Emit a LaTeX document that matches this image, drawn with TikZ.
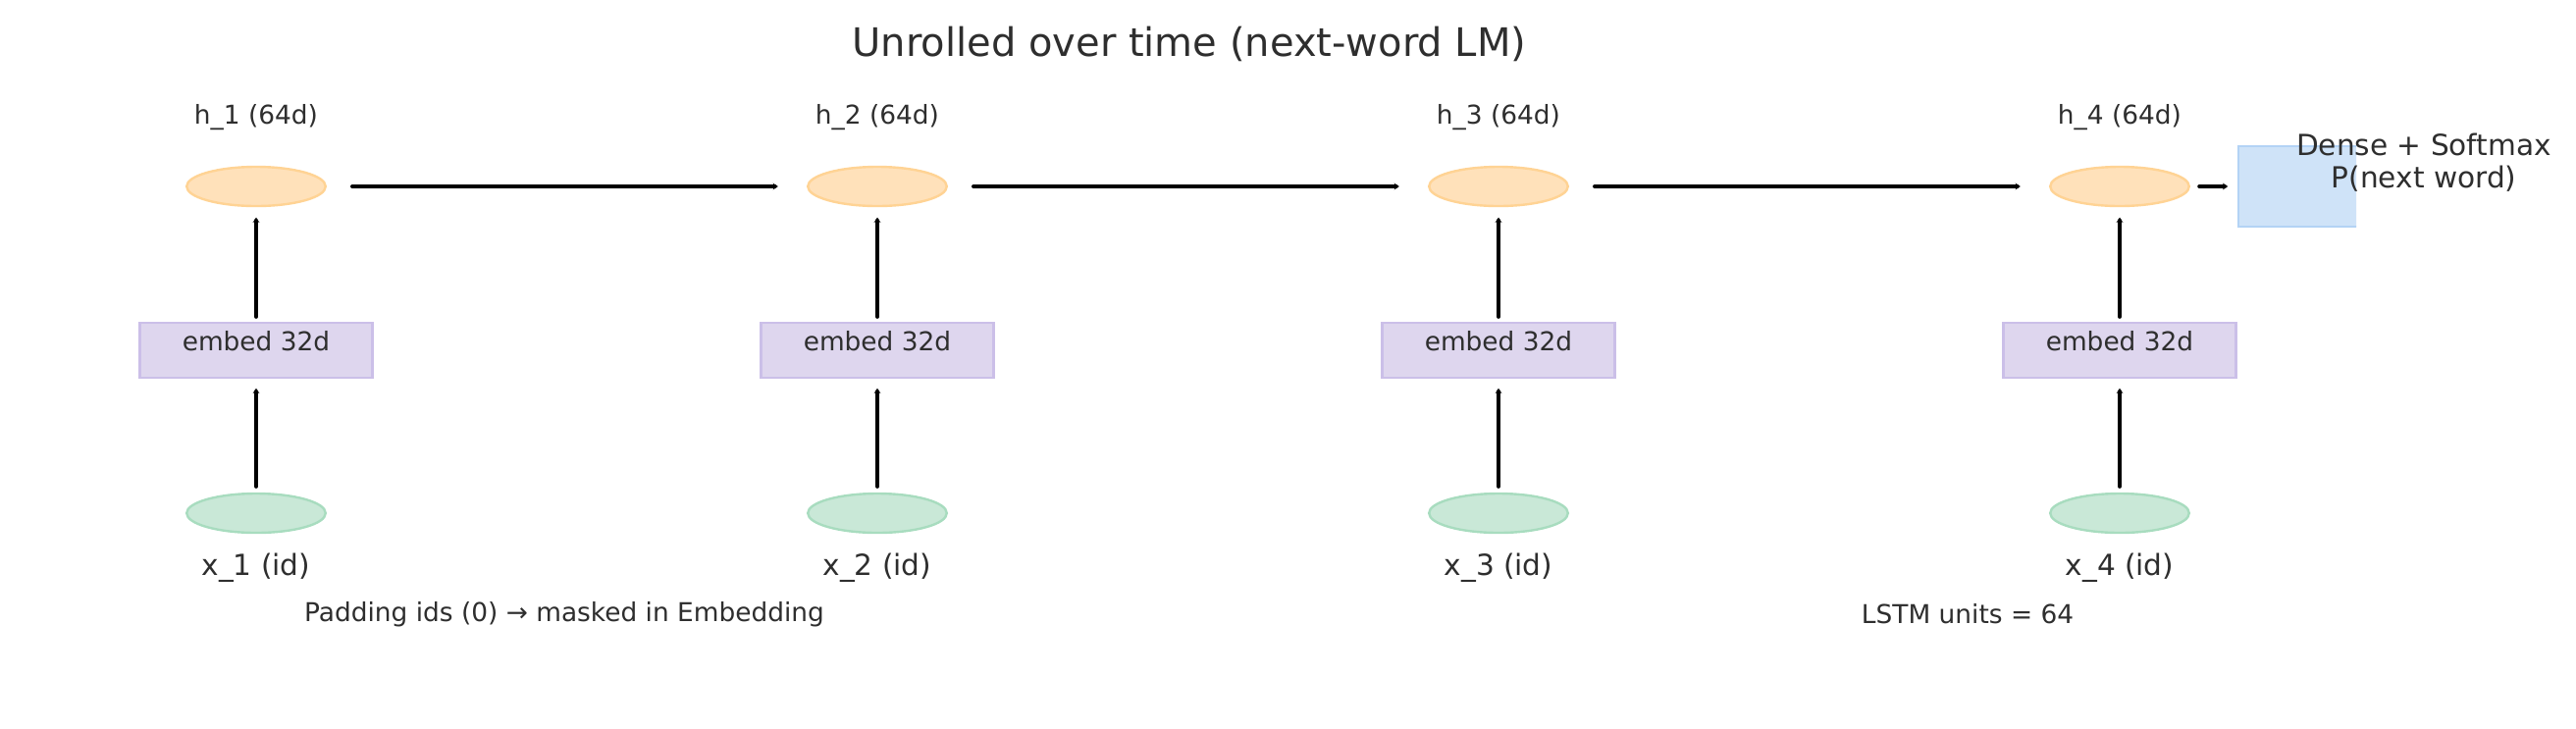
\documentclass[tikz,border=0pt]{standalone}
\usepackage{fontspec}
\setmainfont{DejaVu Sans}
\usetikzlibrary{positioning}
\usetikzlibrary{arrows.meta}
\usetikzlibrary{shapes.geometric}

\definecolor{txt}{HTML}{2E2E2E}
\definecolor{hfill}{HTML}{FFE1BA}
\definecolor{hline}{HTML}{FFD394}
\definecolor{efill}{HTML}{DED6EE}
\definecolor{eline}{HTML}{CBBFE8}
\definecolor{xfill}{HTML}{C9E8D7}
\definecolor{xline}{HTML}{A8DCBF}
\definecolor{dfill}{HTML}{CFE3F8}
\definecolor{dline}{HTML}{B3D3F5}

\begin{document}
\begin{tikzpicture}[x=0.25pt,y=-0.25pt,>={Stealth[length=1.3pt,width=1.7pt]},
    font=\fontsize{6.6}{8}\selectfont,text=txt,
    hid/.style={ellipse,draw=hline,fill=hfill,line width=0.6pt,minimum width=35.4pt,minimum height=10pt,inner sep=0pt},
    tok/.style={ellipse,draw=xline,fill=xfill,line width=0.6pt,minimum width=35.4pt,minimum height=10pt,inner sep=0pt},
    embbox/.style={rectangle,draw=eline,fill=efill,line width=0.6pt,minimum width=59.2pt,text height=7pt,text depth=7pt,inner sep=0pt},
    densebox/.style={rectangle,draw=dline,fill=dfill,line width=0.6pt,minimum width=60pt,minimum height=20.6pt,inner sep=0pt},
    big/.style={font=\fontsize{7.4}{8.3}\selectfont},
    arr/.style={line width=1pt,line cap=round,->},
    vin/.style={arr,shorten <=1.5pt,shorten >=2.4pt},
    vout/.style={arr,shorten <=1.25pt,shorten >=2.6pt}]
    \useasboundingbox (0,0) rectangle (2625,742);
    \node (title) at (1212,45) {\fontsize{10}{12}\selectfont Unrolled over time (next-word LM)};
    % hidden states
    \node[hid] (h1) at (261,190) {};
    \node[hid] (h2) at (894,190) {};
    \node[hid] (h3) at (1527,190) {};
    \node[hid] (h4) at (2160,190) {};
    \node (lh1) at (261,120) {h\_1 (64d)};
    \node (lh2) at (894,120) {h\_2 (64d)};
    \node (lh3) at (1527,120) {h\_3 (64d)};
    \node (lh4) at (2160,120) {h\_4 (64d)};
    % embeddings and tokens
    \node[embbox] (e1) [below=29.15pt of h1] {embed 32d};
    \node[embbox] (e2) [below=29.15pt of h2] {embed 32d};
    \node[embbox] (e3) [below=29.15pt of h3] {embed 32d};
    \node[embbox] (e4) [below=29.15pt of h4] {embed 32d};
    \node[tok] (x1) [below=28.9pt of e1] {};
    \node[tok] (x2) [below=28.9pt of e2] {};
    \node[tok] (x3) [below=28.9pt of e3] {};
    \node[tok] (x4) [below=28.9pt of e4] {};
    \node[big] (lx1) at (261,579) {x\_1 (id)};
    \node[big] (lx2) at (894,579) {x\_2 (id)};
    \node[big] (lx3) at (1527,579) {x\_3 (id)};
    \node[big] (lx4) at (2160,579) {x\_4 (id)};
    % output layer, cut off at the axes edge
    \begin{scope}
        \clip (0,0) rectangle (2401,742);
        \node[densebox] (dense) at (2401,190) {};
    \end{scope}
    \node[big,align=center] (dtxt) at (2470,166) {Dense + Softmax\\P(next word)};
    \node (pad) at (575,626) {Padding ids (0) → masked in Embedding};
    \node (units) at (2005,626) {LSTM units = 64};
    \draw[vin] (x1) -- (e1);
    \draw[vin] (x2) -- (e2);
    \draw[vin] (x3) -- (e3);
    \draw[vin] (x4) -- (e4);
    \draw[vout] (e1) -- (h1);
    \draw[vout] (e2) -- (h2);
    \draw[vout] (e3) -- (h3);
    \draw[vout] (e4) -- (h4);
    \draw[arr,shorten <=6.5pt,shorten >=7.3pt] (h1) -- (h2);
    \draw[arr,shorten <=6.5pt,shorten >=7.3pt] (h2) -- (h3);
    \draw[arr,shorten <=6.5pt,shorten >=7.3pt] (h3) -- (h4);
    \draw[arr,shorten <=2.3pt,shorten >=2.4pt] (h4) -- (dense);
\end{tikzpicture}
\end{document}
